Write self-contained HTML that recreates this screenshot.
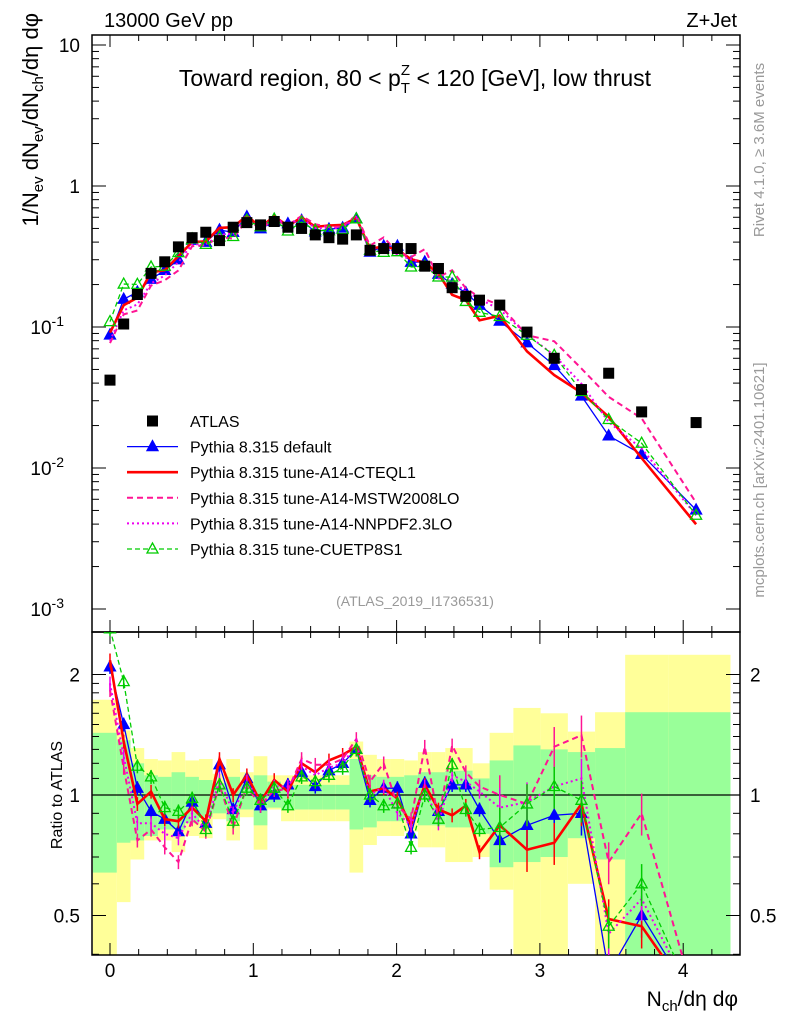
<!DOCTYPE html>
<html><head><meta charset="utf-8">
<style>
html,body{margin:0;padding:0;background:#fff;overflow:hidden;width:786px;height:1024px;}
svg{display:block;position:absolute;left:0;top:0;font-family:"Liberation Sans",sans-serif;}
</style></head>
<body>
<svg id="chart" width="786" height="1024" viewBox="0 0 786 1024" overflow="hidden" xmlns="http://www.w3.org/2000/svg">
<defs>
<clipPath id="clipMain"><rect x="92" y="35" width="648" height="597"/></clipPath>
<clipPath id="clipRatio"><rect x="92" y="632" width="648" height="323"/></clipPath>
</defs>
<g id="bands" clip-path="url(#clipRatio)"></g>
<g id="grid"></g>
<g id="mainSeries" clip-path="url(#clipMain)"></g>
<g id="ratioSeries" clip-path="url(#clipRatio)"></g>
<text x="104" y="27" font-size="20">13000 GeV pp</text>
<text x="737" y="27" font-size="20" text-anchor="end">Z+Jet</text>
<text x="415" y="86" font-size="23" text-anchor="middle">Toward region, 80 &lt; p<tspan font-size="15" dy="7">T</tspan><tspan font-size="15" dx="-9" dy="-18">Z</tspan><tspan dy="11"> &lt; 120 [GeV], low thrust</tspan></text>
<text x="415" y="606" font-size="14" fill="#999" text-anchor="middle">(ATLAS_2019_I1736531)</text>
<text transform="translate(38,13) rotate(-90)" font-size="22" text-anchor="end">1/N<tspan font-size="15" dy="5">ev</tspan><tspan dy="-5"> dN</tspan><tspan font-size="15" dy="5">ev</tspan><tspan dy="-5">/dN</tspan><tspan font-size="15" dy="5">ch</tspan><tspan dy="-5">/dη dφ</tspan></text>
<text transform="translate(62,795) rotate(-90)" font-size="16" text-anchor="middle">Ratio to ATLAS</text>
<text x="738" y="1006" font-size="21" text-anchor="end">N<tspan font-size="15" dy="5">ch</tspan><tspan dy="-5">/dη dφ</tspan></text>
<text transform="translate(764,150) rotate(-90)" font-size="15" fill="#999" text-anchor="middle">Rivet 4.1.0, ≥ 3.6M events</text>
<text transform="translate(764,480) rotate(-90)" font-size="15" fill="#999" text-anchor="middle">mcplots.cern.ch [arXiv:2401.10621]</text>
<g id="legend"></g>
</svg>
<script>
const xs = [0,0.0955,0.191,0.2865,0.382,0.4775,0.573,0.6685,0.764,0.8595,0.955,1.0505,1.146,1.2415,1.337,1.4325,1.528,1.6235,1.719,1.8145,1.91,2.0055,2.101,2.1965,2.292,2.3875,2.483,2.5785,2.72,2.91,3.10,3.29,3.48,3.71,4.09];
const atlas = [0.042,0.105,0.17,0.24,0.29,0.37,0.43,0.47,0.41,0.51,0.55,0.53,0.56,0.51,0.50,0.45,0.43,0.42,0.45,0.35,0.36,0.36,0.36,0.27,0.26,0.19,0.165,0.155,0.143,0.092,0.060,0.036,0.047,0.025,0.021];
const rDefault = [2.09,1.50,1.04,0.91,0.87,0.81,0.96,0.85,1.19,0.92,1.10,0.94,1.0,1.06,1.14,1.05,1.15,1.2,1.3,0.97,1.04,1.04,0.80,1.07,0.91,1.06,1.06,0.92,0.77,0.84,0.89,0.90,0.36,0.50,0.24];
const rCTEQ = [2.17,1.36,0.95,1.02,0.87,0.86,0.93,0.86,1.23,1.0,1.12,0.96,1.09,1.02,1.2,1.14,1.22,1.26,1.32,1.02,1.04,0.98,0.84,1.06,0.92,0.89,0.94,0.72,0.84,0.73,0.76,0.95,0.49,0.47,0.19];
const rMSTW = [1.83,1.17,0.77,0.82,0.74,0.68,0.87,0.81,1.06,0.83,1.05,0.94,1.03,1.03,1.23,1.19,1.19,1.23,1.38,1.08,1.2,0.94,0.87,1.32,0.87,1.33,1.14,1.05,1.0,0.95,1.32,1.41,0.68,0.90,0.27];
const rNNPDF = [1.9,1.25,0.85,0.85,0.8,0.78,0.9,0.82,1.1,0.9,1.08,0.96,1.05,1.05,1.18,1.12,1.17,1.2,1.33,1.0,1.05,0.9,0.84,1.05,0.85,1.12,1.08,1.02,0.93,0.96,1.05,1.1,0.45,0.55,0.22];
const rCUETP = [2.6,1.92,1.18,1.11,0.93,0.91,0.98,0.82,1.06,0.86,1.04,0.97,1.04,0.94,1.11,1.08,1.12,1.17,1.30,1.0,0.94,0.95,0.74,1.0,0.87,1.19,0.92,0.82,0.83,0.95,1.05,0.97,0.47,0.60,0.22];
const yelUp = [1.73,1.45,1.31,1.23,1.22,1.28,1.22,1.23,1.13,1.23,1.14,1.25,1.12,1.12,1.12,1.12,1.12,1.12,1.36,1.26,1.23,1.23,1.22,1.28,1.28,1.31,1.31,1.2,1.43,1.65,1.6,1.44,1.61,2.24,2.24];
const yelDn = [0.3,0.54,0.69,0.77,0.77,0.72,0.79,0.78,0.87,0.77,0.88,0.73,0.92,0.86,0.86,0.86,0.86,0.86,0.64,0.75,0.79,0.79,0.81,0.74,0.74,0.68,0.68,0.7,0.58,0.3,0.3,0.6,0.3,0.3,0.3];
const grnUp = [1.43,1.37,1.2,1.12,1.11,1.14,1.11,1.09,1.07,1.11,1.07,1.12,1.08,1.06,1.06,1.06,1.06,1.06,1.23,1.12,1.11,1.11,1.12,1.14,1.14,1.15,1.15,1.1,1.22,1.33,1.3,1.28,1.31,1.61,1.61];
const grnDn = [0.64,0.76,0.77,0.79,0.82,0.82,0.85,0.88,0.9,0.86,0.92,0.84,0.93,0.92,0.92,0.92,0.92,0.92,0.82,0.83,0.86,0.86,0.88,0.84,0.84,0.83,0.83,0.8,0.66,0.68,0.7,0.78,0.69,0.3,0.3];
const yTickVals = [10,1,0.1,0.01,0.001];
const yTickLabels = ["10","1","10","10","10"];
const yTickExps = ["","","-1","-2","-3"];
const rTickVals = [2,1,0.5];
const rTickLabels = ["2","1","0.5"];
const xTickVals = [0,1,2,3,4];
const xTickLabels = ["0","1","2","3","4"];

const NS = "http://www.w3.org/2000/svg";
const L=92,R=740,T=35,M=632,B=955;
const X = v => 110 + v*143.3;
const Y = v => 186 - 141*Math.log10(v);
const YR = v => 795 - 400.3*Math.log10(Math.min(3,Math.max(0.3,v)));
function mk(parent, tag, attrs){const e=document.createElementNS(NS,tag);for(const k in attrs)e.setAttribute(k,attrs[k]);parent.appendChild(e);return e;}

const gB = document.getElementById('bands');
const edges = [-0.12];
for(let i=0;i<xs.length-1;i++) edges.push((xs[i]+xs[i+1])/2);
edges.push(4.33);
for(let i=0;i<xs.length;i++){
  const x0=X(edges[i]), x1=X(edges[i+1]);
  const y1 = mk(gB,'rect',{x:x0,y:YR(yelUp[i]),width:x1-x0,height:YR(yelDn[i])-YR(yelUp[i]),fill:'#ffff99'});
  
  
  const g1 = mk(gB,'rect',{x:x0,y:YR(grnUp[i]),width:x1-x0,height:YR(grnDn[i])-YR(grnUp[i]),fill:'#99ff99'});
  
  
}

const gA = document.getElementById('grid');
mk(gA,'rect',{x:L,y:T,width:R-L,height:M-T,fill:'none',stroke:'#000','stroke-width':1.5});
mk(gA,'rect',{x:L,y:M,width:R-L,height:B-M,fill:'none',stroke:'#000','stroke-width':1.5});
mk(gA,'line',{x1:L,x2:R,y1:YR(1),y2:YR(1),stroke:'#000','stroke-width':1.2});
for(let v=0;v<=4.4;v+=0.2){
  const vv=Math.round(v*10)/10, maj=Math.abs(vv-Math.round(vv))<1e-6;
  const len=maj?12:6, x=X(vv);
  for(const [yb,dir] of [[M,-1],[T,1],[B,-1],[M,1]]) mk(gA,'line',{x1:x,x2:x,y1:yb,y2:yb+dir*len,stroke:'#000','stroke-width':1});
}
xTickVals.forEach((v,i)=>{const t=mk(gA,'text',{x:X(v),y:977,'font-size':19,'text-anchor':'middle'});t.textContent=xTickLabels[i];

});
for(let d=-3;d<=1;d++){
  for(let m=1;m<=9;m++){
    const v=m*Math.pow(10,d); const y=Y(v); if(y<T||y>M) continue;
    const len=m===1?14:7;
    mk(gA,'line',{x1:L,x2:L+len,y1:y,y2:y,stroke:'#000','stroke-width':1});
    mk(gA,'line',{x1:R,x2:R-len,y1:y,y2:y,stroke:'#000','stroke-width':1});
  }
}
yTickVals.forEach((v,i)=>{
  const t=mk(gA,'text',{x:80,y:Y(v)+7,'font-size':19,'text-anchor':'end'});
  t.textContent=yTickLabels[i];
  if(yTickExps[i]){t.setAttribute('x',yTickExps[i].length>1?64:70);const s=mk(t,'tspan',{'font-size':14,dy:-8});s.textContent=yTickExps[i];}
  
  
});
[0.4,0.5,0.6,0.7,0.8,0.9,1,1.1,1.2,1.3,1.4,1.5,1.6,1.7,1.8,1.9,2].forEach(v=>{
  const y=YR(v); if(y<M||y>B) return; const maj=(v===0.5||v===1||v===2); const len=maj?14:7;
  mk(gA,'line',{x1:L,x2:L+len,y1:y,y2:y,stroke:'#000','stroke-width':1});
  mk(gA,'line',{x1:R,x2:R-len,y1:y,y2:y,stroke:'#000','stroke-width':1});
});
rTickVals.forEach((v,i)=>{
  const t=mk(gA,'text',{x:80,y:YR(v)+7,'font-size':19,'text-anchor':'end'});t.textContent=rTickLabels[i];
  
  
  const t2=mk(gA,'text',{x:750,y:YR(v)+7,'font-size':19});t2.textContent=rTickLabels[i];
  
  
});

const series = [
  {name:'pythia-default',r:rDefault,color:'#0000ff',w:1.3,dash:'',marker:'tri'},
  {name:'pythia-a14-cteql1',r:rCTEQ,color:'#ff0000',w:2.6,dash:'',marker:'none'},
  {name:'pythia-a14-mstw2008lo',r:rMSTW,color:'#ff1493',w:2,dash:'6,4',marker:'none'},
  {name:'pythia-a14-nnpdf23lo',r:rNNPDF,color:'#ee00ee',w:2,dash:'2,3',marker:'none'},
  {name:'pythia-cuetp8s1',r:rCUETP,color:'#00cc00',w:1.3,dash:'5,3',marker:'otri'}
];
function marker(g,type,x,y,color){
  if(type==='tri'||type==='otri'){
    const p=mk(g,'polygon',{points:`${x},${y-6} ${x-5.5},${y+4} ${x+5.5},${y+4}`,fill:type==='tri'?color:'none',stroke:color,'stroke-width':1.3});
    
    
  }
}
const gM=document.getElementById('mainSeries'), gR=document.getElementById('ratioSeries');
series.forEach(s=>{
  const ptsM = xs.map((x,i)=>`${X(x)},${Y(atlas[i]*s.r[i])}`).join(' ');
  const ptsR = xs.map((x,i)=>`${X(x)},${YR(s.r[i])}`).join(' ');
  const lm=mk(gM,'polyline',{points:ptsM,fill:'none',stroke:s.color,'stroke-width':s.w,'stroke-dasharray':s.dash});
  
  
  const lr=mk(gR,'polyline',{points:ptsR,fill:'none',stroke:s.color,'stroke-width':s.w,'stroke-dasharray':s.dash});
  
  
  xs.forEach((x,i)=>{
    const r=s.r[i], e=0.04+(i>27?0.08:0);
    const eb=mk(gR,'line',{x1:X(x),x2:X(x),y1:YR(r*(1+e)),y2:YR(r*(1-e)),stroke:s.color,'stroke-width':1.5});
    
    
    marker(gM,s.marker,X(x),Y(atlas[i]*r),s.color);
    marker(gR,s.marker,X(x),YR(r),s.color);
  });
});
xs.forEach((x,i)=>{
  const sq=mk(gM,'rect',{x:X(x)-5.5,y:Y(atlas[i])-5.5,width:11,height:11,fill:'#000'});
  
  
});

const gL=document.getElementById('legend');
const legItems=[
  {label:'ATLAS',color:'#000',w:0,dash:'',m:'sq'},
  {label:'Pythia 8.315 default',color:'#0000ff',w:1.3,dash:'',m:'tri'},
  {label:'Pythia 8.315 tune-A14-CTEQL1',color:'#ff0000',w:2.6,dash:'',m:'none'},
  {label:'Pythia 8.315 tune-A14-MSTW2008LO',color:'#ff1493',w:2,dash:'6,4',m:'none'},
  {label:'Pythia 8.315 tune-A14-NNPDF2.3LO',color:'#ee00ee',w:2,dash:'2,3',m:'none'},
  {label:'Pythia 8.315 tune-CUETP8S1',color:'#00cc00',w:1.3,dash:'5,3',m:'otri'}
];
legItems.forEach((it,i)=>{
  const y=421+i*25.6;
  const g=mk(gL,'g',{});
  
  
  if(it.m==='sq') mk(g,'rect',{x:147,y:y-5.5,width:11,height:11,fill:'#000'});
  else mk(g,'line',{x1:127,x2:178,y1:y,y2:y,stroke:it.color,'stroke-width':it.w,'stroke-dasharray':it.dash});
  marker(g,it.m,152.5,y,it.color);
  const t=mk(g,'text',{x:190,y:y+6,'font-size':16});t.textContent=it.label;
});
</script>
</body></html>
